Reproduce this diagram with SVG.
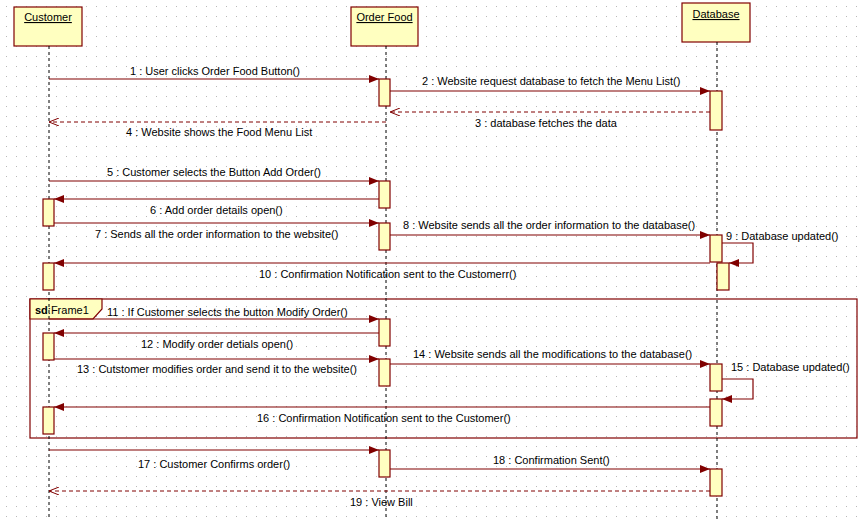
<svg xmlns="http://www.w3.org/2000/svg" width="865" height="519" viewBox="0 0 865 519">
<style>
.lbl{font-family:"Liberation Sans",Arial,sans-serif;font-size:11px;fill:#000}
.hdr{font-family:"Liberation Sans",Arial,sans-serif;font-size:11px;fill:#000;text-decoration:underline;text-anchor:middle}
.box{fill:#FFFFC0;stroke:#800000;stroke-width:1.2}
.act{fill:#FFFFC0;stroke:#800000;stroke-width:1.2}
.life{stroke:#000;stroke-width:1;stroke-dasharray:3,3;fill:none}
.msg{stroke:#800000;stroke-width:1.2;fill:none;marker-end:url(#filled)}
.ret{stroke:#800000;stroke-width:1;stroke-dasharray:4,3;fill:none;marker-end:url(#open)}
.frame{fill:none;stroke:#800000;stroke-width:1.2}
</style>
<defs>
<pattern id="grid" width="10" height="10" patternUnits="userSpaceOnUse" x="6" y="6">
<rect x="0" y="0" width="1" height="1" fill="#b8b8b8"/>
</pattern>
<marker id="filled" viewBox="0 0 10 8" refX="10" refY="4" markerWidth="10" markerHeight="8" markerUnits="userSpaceOnUse" orient="auto">
<path d="M0,0 L10,4 L0,8 Z" fill="#800000"/>
</marker>
<marker id="open" viewBox="0 0 10 8" refX="10" refY="4" markerWidth="10" markerHeight="8" markerUnits="userSpaceOnUse" orient="auto">
<path d="M0,0 L10,4 L0,8" fill="none" stroke="#800000" stroke-width="1"/>
</marker>
</defs>
<rect width="865" height="519" fill="#fff"/>
<rect width="865" height="519" fill="url(#grid)"/>

<g id="frame1">
<rect class="frame" x="30" y="299" width="827" height="139"/>
<path d="M30,299 L102,299 L102,309 L93,319 L30,319 Z" fill="#FFFFC0" stroke="#800000" stroke-width="1.2"/>
<text class="lbl" x="35" y="314"><tspan font-weight="bold">sd</tspan>:Frame1</text>
</g>

<g id="customer">
<rect class="box" x="14" y="7" width="68" height="39"/>
<text class="hdr" x="48" y="21">Customer</text>
<line class="life" x1="49" y1="46" x2="49" y2="519"/>
<rect class="act" x="43" y="199" width="11" height="27"/>
<rect class="act" x="43" y="263" width="11" height="27"/>
<rect class="act" x="43" y="333" width="11" height="27"/>
<rect class="act" x="43" y="407" width="11" height="27"/>
</g>

<g id="orderfood">
<rect class="box" x="351" y="7" width="67" height="39"/>
<text class="hdr" x="384.5" y="21">Order Food</text>
<line class="life" x1="386" y1="46" x2="386" y2="519"/>
<rect class="act" x="379" y="79" width="11" height="27"/>
<rect class="act" x="379" y="181" width="11" height="27"/>
<rect class="act" x="379" y="223" width="11" height="27"/>
<rect class="act" x="379" y="319" width="11" height="27"/>
<rect class="act" x="379" y="359" width="11" height="27"/>
<rect class="act" x="379" y="450" width="11" height="27"/>
</g>

<g id="database">
<rect class="box" x="682" y="3" width="68" height="39"/>
<text class="hdr" x="716" y="18">Database</text>
<line class="life" x1="717" y1="42" x2="717" y2="519"/>
<rect class="act" x="710" y="91" width="12" height="39"/>
<rect class="act" x="710" y="235" width="12" height="27"/>
<rect class="act" x="717" y="263" width="12" height="27"/>
<rect class="act" x="710" y="364" width="12" height="27"/>
<rect class="act" x="710" y="399" width="12" height="27"/>
<rect class="act" x="710" y="469" width="12" height="27"/>
</g>

<g id="connectors">
<line class="msg" x1="49" y1="79" x2="379" y2="79"/>
<text class="lbl" x="130" y="75">1 : User clicks Order Food Button()</text>
<line class="msg" x1="390" y1="91" x2="710" y2="91"/>
<text class="lbl" x="422" y="85">2 : Website request database to fetch the Menu List()</text>
<line class="ret" x1="710" y1="112" x2="390" y2="112"/>
<text class="lbl" x="475" y="127">3 : database fetches the data</text>
<line class="ret" x1="386" y1="122" x2="49" y2="122"/>
<text class="lbl" x="126" y="136">4 : Website shows the Food Menu List</text>

<line class="msg" x1="49" y1="181" x2="379" y2="181"/>
<text class="lbl" x="107" y="176">5 : Customer selects the Button Add Order()</text>
<line class="msg" x1="379" y1="199" x2="54" y2="199"/>
<text class="lbl" x="150" y="214">6 : Add order details open()</text>
<line class="msg" x1="54" y1="223" x2="379" y2="223"/>
<text class="lbl" x="95" y="238">7 : Sends all the order information to the website()</text>
<line class="msg" x1="390" y1="235" x2="710" y2="235"/>
<text class="lbl" x="403" y="229">8 : Website sends all the order information to the database()</text>
<path class="msg" d="M722,243 L753,243 L753,263 L729,263"/>
<text class="lbl" x="726" y="240">9 : Database updated()</text>
<line class="msg" x1="710" y1="263" x2="54" y2="263"/>
<text class="lbl" x="259" y="278">10 : Confirmation Notification sent to the Customerr()</text>

<line class="msg" x1="49" y1="319" x2="379" y2="319"/>
<text class="lbl" x="107" y="316">11 : If Customer selects the button Modify Order()</text>
<line class="msg" x1="379" y1="333" x2="54" y2="333"/>
<text class="lbl" x="141" y="348">12 : Modify order detials open()</text>
<line class="msg" x1="54" y1="359" x2="379" y2="359"/>
<text class="lbl" x="77" y="373">13 : Cutstomer modifies order and send it to the website()</text>
<line class="msg" x1="390" y1="364" x2="710" y2="364"/>
<text class="lbl" x="413" y="358">14 : Website sends all the modifications to the database()</text>
<path class="msg" d="M722,379 L753,379 L753,399 L722,399"/>
<text class="lbl" x="731" y="371">15 : Database updated()</text>
<line class="msg" x1="710" y1="407" x2="54" y2="407"/>
<text class="lbl" x="257" y="422">16 : Confirmation Notification sent to the Customer()</text>

<line class="msg" x1="49" y1="450" x2="379" y2="450"/>
<text class="lbl" x="138" y="468">17 : Customer Confirms order()</text>
<line class="msg" x1="390" y1="469" x2="710" y2="469"/>
<text class="lbl" x="493" y="464">18 : Confirmation Sent()</text>
<line class="ret" x1="710" y1="491" x2="49" y2="491"/>
<text class="lbl" x="350" y="506">19 : View Bill</text>
</g>
</svg>
